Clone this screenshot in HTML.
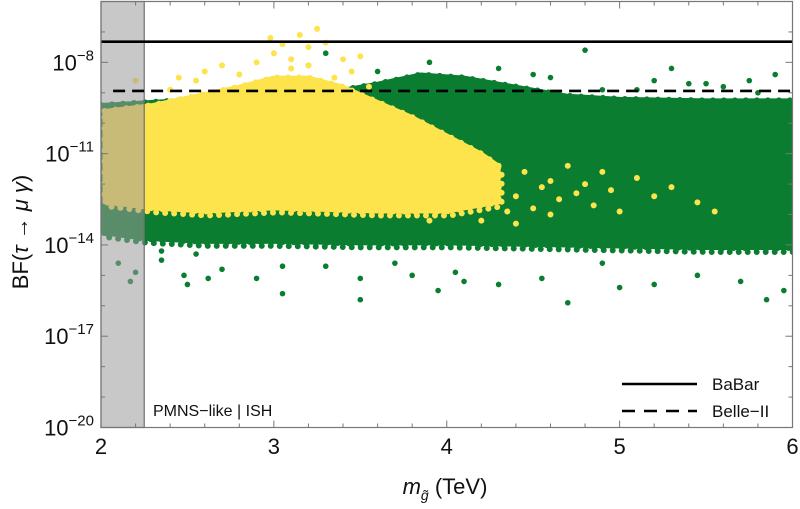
<!DOCTYPE html>
<html><head><meta charset="utf-8">
<style>
html,body{margin:0;padding:0;background:#fff;}
svg{display:block;font-family:"Liberation Sans",sans-serif;}
</style></head>
<body>
<svg id="chart" width="800" height="509" viewBox="0 0 800 509">
  <g id="marks"></g>
  <g id="overlay"></g>
  <g id="axes"></g>
</svg>
<script>
// ---- data ----
const xTicks = [2, 3, 4, 5, 6];
const yTickExps = [-20, -17, -14, -11, -8];
const babarLimit = -7.32;    // log10 BF
const belleLimit = -8.94;    // log10 BF
const excludedMax = 2.25;    // TeV
// dense green cloud envelope [mass TeV, log10 BF]
const greenTop = [[2.0,-9.4],[2.3,-9.3],[2.6,-9.2],[3.0,-9.2],[3.3,-9.0],[3.6,-8.7],[3.85,-8.4],[4.1,-8.5],[4.4,-8.8],[4.7,-9.1],[5.0,-9.2],[5.5,-9.25],[6.0,-9.25]];
const greenBottom = [[6.0,-14.1],[5.5,-14.1],[5.0,-14.05],[4.5,-14.0],[4.0,-13.95],[3.5,-13.95],[3.0,-13.9],[2.6,-13.9],[2.25,-13.8],[2.0,-13.6]];
// dense yellow cloud envelope
const yellowTop = [[2.02,-9.6],[2.3,-9.4],[2.55,-9.1],[2.8,-8.8],[3.0,-8.5],[3.2,-8.5],[3.4,-8.8],[3.6,-9.3],[3.8,-9.8],[4.0,-10.4],[4.2,-11.0],[4.3,-11.4]];
const yellowBottom = [[4.3,-12.6],[4.0,-12.9],[3.6,-12.9],[3.0,-12.8],[2.6,-12.9],[2.3,-12.8],[2.02,-12.6]];
// sparse points
const greenPtsX = [2.1,2.2,2.17,2.35,2.48,2.55,2.62,2.7,2.9,3.05,3.3,3.3,3.5,3.6,3.8,3.95,4.1,4.3,4.55,4.7,4.9,5.2,5.45,5.7,5.85,5.95,3.2,3.5,4.8,5.3,5.75,2.35,3.7,4.4,5.0,5.5,3.05,2.5,4.05,4.3,4.6,4.9,5.2,5.6,5.9,3.9,4.5,5.1,5.4,5.8];
const greenPtsLog = [-14.6,-14.9,-15.2,-14.5,-15.0,-14.3,-15.1,-14.8,-15.1,-15.6,-14.7,-7.7,-15.1,-8.3,-15.0,-15.5,-15.2,-15.3,-15.1,-15.9,-14.6,-15.3,-15.0,-15.2,-15.8,-15.5,-8.1,-15.8,-7.6,-8.2,-8.6,-14.2,-14.6,-8.8,-15.4,-8.7,-14.7,-15.3,-14.9,-8.2,-8.5,-8.9,-8.6,-8.8,-8.4,-8.0,-8.4,-8.9,-8.7,-9.0];
const yellowPtsX = [2.98,3.05,3.15,3.25,3.3,3.4,2.7,2.6,2.45,3.5,3.0,3.2,2.4,2.55,2.8,3.1,3.35,3.55,2.2,4.1,4.2,4.3,4.4,4.45,4.5,4.55,4.6,4.65,4.7,4.75,4.8,4.85,4.9,4.95,5.0,5.1,5.2,5.3,5.45,5.55,4.4,4.2,3.9,4.15,4.35,4.6,4.25,4.05,2.9,3.1,3.2,3.45];
const yellowPtsLog = [-7.2,-7.4,-7.1,-6.9,-7.35,-7.9,-8.1,-8.3,-8.5,-7.8,-7.7,-7.5,-8.9,-8.6,-8.4,-8.2,-8.5,-8.8,-8.6,-11.5,-12.3,-11.7,-12.4,-11.6,-12.8,-12.1,-11.9,-12.5,-11.4,-12.3,-12.0,-12.7,-11.6,-12.2,-12.9,-11.8,-12.4,-12.1,-12.6,-12.9,-13.3,-13.2,-13.2,-12.6,-12.9,-13.0,-11.9,-12.2,-8.0,-7.9,-8.1,-8.3];

// ---- scales ----
const X0 = 101, X1 = 792.5, Y0 = 427.5, Y1 = 1.5;
const xS = v => X0 + (v - 2) / 4 * (X1 - X0);
const yS = l => Y0 - (l + 20) / 14 * (Y0 - Y1);
const NS = "http://www.w3.org/2000/svg";
function mk(tag, attrs, parent) {
  const e = document.createElementNS(NS, tag);
  for (const k in attrs) e.setAttribute(k, attrs[k]);
  parent.appendChild(e); return e;
}
const marks = document.getElementById('marks');
const overlay = document.getElementById('overlay');
const axes = document.getElementById('axes');
const GREEN = "#0a7d30", YEL = "#fde34c";

function cloud(top, bottom, color, name) {
  const pts = top.concat(bottom).map(p => xS(p[0]).toFixed(1) + "," + yS(p[1]).toFixed(1)).join(" ");
  const f = mk('polygon', {points: pts, fill: "none", stroke: color, 'stroke-width': 6, 'stroke-linecap': 'round', 'stroke-dasharray': '0,11'}, marks);
  
  
  const p = mk('polygon', {points: pts, fill: color, stroke: color, 'stroke-width': 4, 'stroke-linejoin': 'round'}, marks);
  
  
  const g = mk('polygon', {points: pts, fill: "none", stroke: color, 'stroke-width': 6, 'stroke-linecap': 'round', 'stroke-dasharray': '0,9', transform: 'translate(3,4)'}, marks);
  
  
}
cloud(greenTop, greenBottom, GREEN, 'green-point-cloud');
greenPtsX.forEach((x, i) => {
  const c = mk('circle', {cx: xS(x), cy: yS(greenPtsLog[i]), r: 2.8, fill: GREEN}, marks);
  
  
});
cloud(yellowTop, yellowBottom, YEL, 'yellow-point-cloud');
yellowPtsX.forEach((x, i) => {
  const c = mk('circle', {cx: xS(x), cy: yS(yellowPtsLog[i]), r: 3, fill: YEL}, marks);
  
  
});
mk('rect', {x: 0, y: 0, width: X0, height: 509, fill: '#fff'}, overlay);
mk('rect', {x: X1, y: 0, width: 10, height: 509, fill: '#fff'}, overlay);

// excluded band
const band = mk('rect', {x: X0, y: Y1, width: xS(excludedMax) - X0, height: Y0 - Y1, fill: "#9a9a9a", 'fill-opacity': 0.55, stroke: "#6e6e6e", 'stroke-width': 1.2}, overlay);



// limit lines
const l1 = mk('line', {x1: X0, x2: X1, y1: yS(babarLimit), y2: yS(babarLimit), stroke: "#000", 'stroke-width': 2.6}, overlay);


const l2 = mk('line', {x1: xS(2.07), x2: X1, y1: yS(belleLimit), y2: yS(belleLimit), stroke: "#000", 'stroke-width': 2.6, 'stroke-dasharray': '12,7'}, overlay);



// frame
const fr = mk('rect', {x: X0, y: Y1, width: X1 - X0, height: Y0 - Y1, fill: "none", stroke: "#777", 'stroke-width': 1.2}, axes);



// x ticks
for (let v = 2; v <= 6.001; v += 0.2) {
  const major = Math.abs(v - Math.round(v)) < 1e-6;
  const len = major ? 7 : 4;
  mk('line', {x1: xS(v), x2: xS(v), y1: Y0, y2: Y0 - len, stroke: "#777", 'stroke-width': 1}, axes);
  mk('line', {x1: xS(v), x2: xS(v), y1: Y1, y2: Y1 + len, stroke: "#777", 'stroke-width': 1}, axes);
}
xTicks.forEach(v => {
  const t = mk('text', {x: xS(v), y: 454, 'font-size': 22, 'text-anchor': 'middle', fill: "#111"}, axes);
  t.textContent = v;
  
  
});
// y ticks
for (let e = -20; e <= -6; e++) {
  const major = yTickExps.includes(e);
  const len = major ? 7 : 4;
  mk('line', {x1: X0, x2: X0 + len, y1: yS(e), y2: yS(e), stroke: "#777", 'stroke-width': 1}, axes);
  mk('line', {x1: X1, x2: X1 - len, y1: yS(e), y2: yS(e), stroke: "#777", 'stroke-width': 1}, axes);
}
yTickExps.forEach(e => {
  const t = mk('text', {x: 94, y: yS(e) + 8, 'font-size': 22, 'text-anchor': 'end', fill: "#111"}, axes);
  t.innerHTML = '10<tspan dy="-10" font-size="15">\u2212' + Math.abs(e) + '</tspan>';
  
  
});
axes.insertAdjacentHTML('beforeend',
 '<text x="0" y="0" font-size="22" fill="#111" text-anchor="middle" transform="translate(28,232) rotate(-90)">BF(<tspan font-style="italic">τ</tspan> → <tspan font-style="italic">μ γ</tspan>)</text>' +
 '<text x="445" y="494" font-size="22" fill="#111" text-anchor="middle"><tspan font-style="italic">m</tspan><tspan font-size="14" font-style="italic" dy="6">g̃</tspan><tspan dy="-6"> (TeV)</tspan></text>' +
 '<text x="153" y="416" font-size="16" fill="#111">PMNS−like | ISH</text>' +
 '<g>' +
 '<line x1="622" x2="697" y1="384" y2="384" stroke="#000" stroke-width="2.6"/>' +
 '<text x="712" y="390" font-size="17" fill="#111">BaBar</text>' +
 '<line x1="622" x2="697" y1="411" y2="411" stroke="#000" stroke-width="2.6" stroke-dasharray="13,9"/>' +
 '<text x="712" y="417" font-size="17" fill="#111">Belle−II</text>' +
 '</g>');
</script>
</body></html>
